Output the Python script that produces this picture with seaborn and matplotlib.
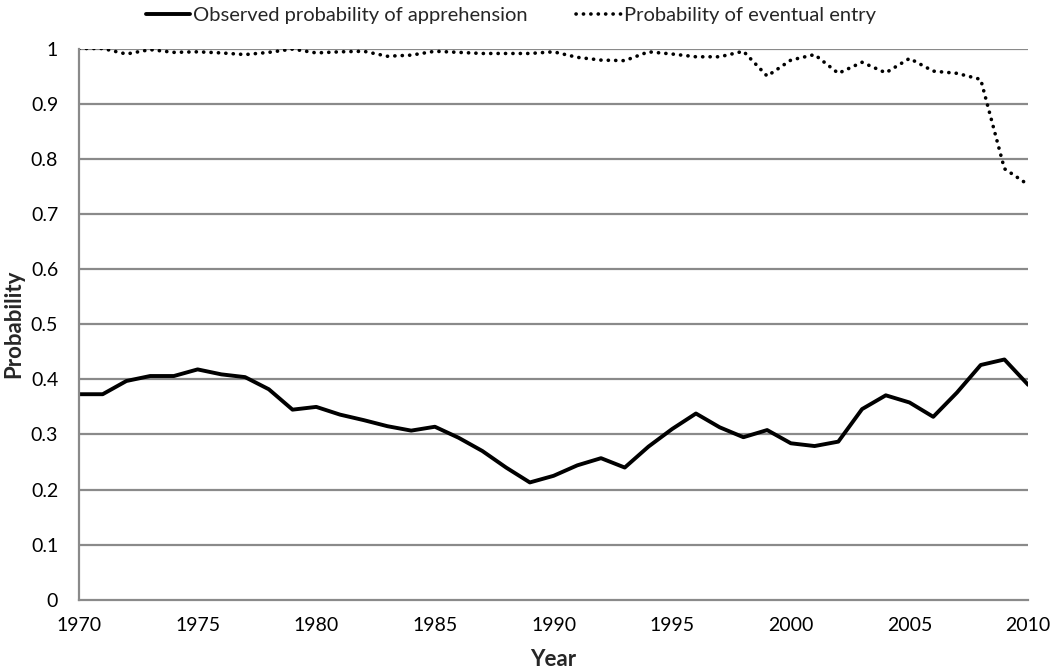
import numpy as np
import pandas as pd
import matplotlib
matplotlib.use("Agg")
import matplotlib.pyplot as plt
import seaborn as sns

# Values
years = list(range(1970, 2011))
apprehension = [0.373, 0.373, 0.397, 0.406, 0.406, 0.418, 0.409, 0.404, 0.382, 0.345,
                0.350, 0.336, 0.326, 0.315, 0.307, 0.314, 0.294, 0.270, 0.240, 0.213,
                0.225, 0.244, 0.257, 0.240, 0.278, 0.310, 0.338, 0.313, 0.295, 0.308,
                0.284, 0.279, 0.287, 0.346, 0.371, 0.358, 0.332, 0.376, 0.426, 0.436,
                0.390]
eventual_entry = [1.000, 1.000, 0.990, 0.998, 0.993, 0.994, 0.992, 0.989, 0.993, 0.999,
                  0.992, 0.994, 0.995, 0.986, 0.988, 0.995, 0.993, 0.991, 0.991, 0.991,
                  0.994, 0.984, 0.979, 0.978, 0.994, 0.990, 0.985, 0.985, 0.995, 0.950,
                  0.979, 0.989, 0.955, 0.975, 0.956, 0.982, 0.959, 0.955, 0.944, 0.782,
                  0.753]
series_names = ["Observed probability of apprehension", "Probability of eventual entry"]
x_ticks = list(range(1970, 2011, 5))
y_ticks = [0, 0.1, 0.2, 0.3, 0.4, 0.5, 0.6, 0.7, 0.8, 0.9, 1]

df = pd.DataFrame({"Year": years, series_names[0]: apprehension, series_names[1]: eventual_entry})

sns.set_style("white")
plt.rcParams["font.family"] = ["Lato", "DejaVu Sans"]

fig = plt.figure(figsize=(10.5, 6.71), dpi=100)
ax = fig.add_axes([0.0752, 0.106, 0.904, 0.8217])

grid_col = "#8a8a8a"
for yv in y_ticks[1:]:
    ax.axhline(yv, color=grid_col, lw=1.6, zorder=0)

sns.lineplot(data=df, x="Year", y=series_names[0], ax=ax, color="black", lw=2.8,
             label=series_names[0])
sns.lineplot(data=df, x="Year", y=series_names[1], ax=ax, color="black", lw=2.6,
             linestyle=(0, (0.05, 2.0)), label=series_names[1])
ax.lines[-1].set_dash_capstyle("round")

ax.set_xlim(1970, 2010)
ax.set_ylim(0, 1)
ax.set_xticks(x_ticks)
ax.set_yticks(y_ticks)
ax.set_yticklabels([f"{v:g}" for v in y_ticks])
ax.tick_params(axis="both", length=0, labelsize=14, colors="black")
ax.tick_params(axis="x", pad=12)
ax.tick_params(axis="y", pad=15)

for side in ["top", "right"]:
    ax.spines[side].set_visible(False)
for side in ["left", "bottom"]:
    ax.spines[side].set_color(grid_col)
    ax.spines[side].set_linewidth(1.6)

ax.set_xlabel("Year", fontsize=16, fontweight="bold", labelpad=11)
ax.set_ylabel("Probability", fontsize=16, fontweight="bold", labelpad=5)

handles, labels = ax.get_legend_handles_labels()
ax.get_legend().remove()
leg = fig.legend(handles, labels, loc="upper left", bbox_to_anchor=(0.139, 0.99), ncol=2,
                 frameon=False, fontsize=14.5, handlelength=2.2, handletextpad=0.15,
                 columnspacing=2.4, borderpad=0.0, borderaxespad=0.0)
leg.get_lines()[1].set_dash_capstyle("round")

fig.savefig("out.png", dpi=100)
